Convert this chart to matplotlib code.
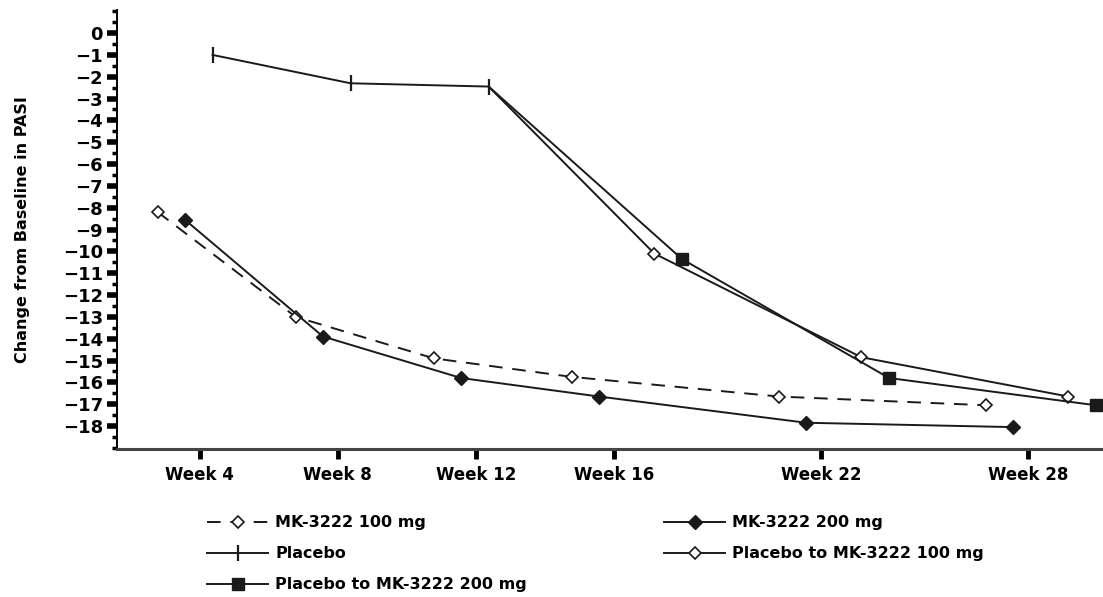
import matplotlib.pyplot as plt
from matplotlib.ticker import MultipleLocator

# Mean change from baseline in PASI
weeks = [4, 8, 12, 16, 22, 28]
week_labels = ["Week 4", "Week 8", "Week 12", "Week 16", "Week 22", "Week 28"]

mk100 = [-8.2, -13.0, -14.9, -15.75, -16.65, -17.05]
mk200 = [-8.55, -13.9, -15.8, -16.65, -17.85, -18.05]

placebo_weeks = [4, 8, 12]
placebo = [-1.0, -2.3, -2.45]

switch_weeks = [16, 22, 28]
pbo_mk100 = [-10.1, -14.85, -16.65]
pbo_mk200 = [-10.35, -15.8, -17.05]

# small horizontal shifts so the groups don't sit on top of each other
shift = {"mk100": -1.22, "mk200": -0.43, "pbo": 0.37, "p100": 1.17, "p200": 1.97}

plt.rcParams["font.family"] = "DejaVu Sans"
plt.rcParams["font.weight"] = "bold"

fig = plt.figure(figsize=(11.03, 5.97), dpi=100)
ax = fig.add_axes([0.106, 0.248, 0.894, 0.735])

ink = "#1a1a1a"

x100 = [w + shift["mk100"] for w in weeks]
l1, = ax.plot(x100, mk100, color=ink, lw=1.4, dashes=(7, 5), marker="D", ms=6,
              mfc="white", mec=ink, mew=1.2, label="MK-3222 100 mg")

x200 = [w + shift["mk200"] for w in weeks]
l2, = ax.plot(x200, mk200, color=ink, lw=1.4, marker="D", ms=7,
              mfc=ink, mec=ink, label="MK-3222 200 mg")

xp = [w + shift["pbo"] for w in placebo_weeks]
l3, = ax.plot(xp, placebo, color=ink, lw=1.4, marker="|", ms=12, mew=1.6,
              label="Placebo")

# switch groups start from the last placebo point
xs1 = [xp[-1]] + [w + shift["p100"] for w in switch_weeks]
l4, = ax.plot(xs1, [placebo[-1]] + pbo_mk100, color=ink, lw=1.4, marker="D", ms=6,
              mfc="white", mec=ink, mew=1.2, markevery=[1, 2, 3],
              label="Placebo to MK-3222 100 mg")

xs2 = [xp[-1]] + [w + shift["p200"] for w in switch_weeks]
l5, = ax.plot(xs2, [placebo[-1]] + pbo_mk200, color=ink, lw=1.4, marker="s", ms=8,
              mfc=ink, mec=ink, markevery=[1, 2, 3], clip_on=False,
              label="Placebo to MK-3222 200 mg")

ax.set_xlim(1.6, 30.17)
ax.set_ylim(-19.05, 1.05)

ax.set_xticks(weeks)
ax.set_xticklabels(week_labels, fontsize=12, fontweight="bold")
ax.tick_params(axis="x", direction="out", length=7, width=3.5, pad=5, color="black")

ax.yaxis.set_major_locator(MultipleLocator(1))
ax.yaxis.set_minor_locator(MultipleLocator(0.5))
ax.set_yticks(range(0, -19, -1))
ax.tick_params(axis="y", which="major", direction="out", length=7, width=4, pad=3,
               labelsize=13)
ax.tick_params(axis="y", which="minor", direction="out", length=3.5, width=2.5)

ax.spines["top"].set_visible(False)
ax.spines["right"].set_visible(False)
ax.spines["left"].set_linewidth(1.4)
ax.spines["bottom"].set_linewidth(2.2)
ax.spines["bottom"].set_color("#444444")

ax.set_ylabel("Change from Baseline in PASI", fontsize=11.5, fontweight="bold")
ax.yaxis.set_label_coords(-0.088, 0.5)

fig.legend(handles=[l1, l3, l5, l2, l4], ncol=2, frameon=False,
           loc="upper left", bbox_to_anchor=(0.175, 0.161),
           fontsize=11.5, handlelength=3.8, handletextpad=0.45,
           columnspacing=8.6, labelspacing=1.0)

fig.savefig("out.png", dpi=100)
